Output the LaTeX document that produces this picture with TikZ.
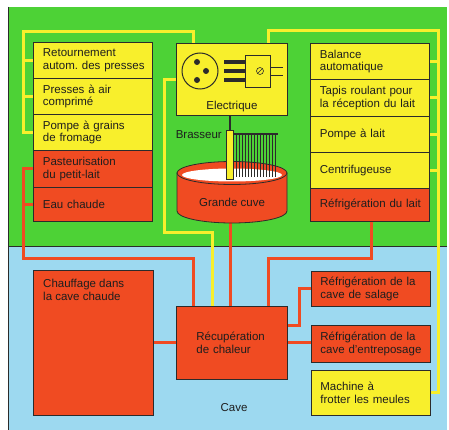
\documentclass[tikz,border=0pt]{standalone}
\usepackage{fontspec}
\setmainfont{Liberation Sans}
\usetikzlibrary{calc}
\pgfdeclarelayer{bg}
\pgfdeclarelayer{wires}
\pgfsetlayers{bg,wires,main}

\definecolor{grn}{HTML}{4DD236}
\definecolor{yel}{HTML}{F8EF2C}
\definecolor{rd}{HTML}{F04B22}
\definecolor{blu}{HTML}{9DD9F0}
\definecolor{edge}{HTML}{2B2B2B}
\definecolor{ink}{HTML}{1E1E1E}

\tikzset{
  cell/.style={rectangle, draw=edge, line width=0.8pt, anchor=north west,
    align=left, text width=#1, inner xsep=9.5pt, inner ysep=0pt, text=ink},
  cell/.default=100pt,
  ywire/.style={draw=yel, line width=3pt},
  rwire/.style={draw=rd, line width=3pt},
  outline/.style={draw=edge, line width=0.8pt},
}

\begin{document}
\begin{tikzpicture}[x=1pt, y=-1pt, font=\fontsize{11.5}{12.5}\selectfont]
\useasboundingbox (0,0) rectangle (449,430);

% background: dairy floor (green) and cellar (blue)
\begin{pgfonlayer}{bg}
  \fill[white] (0,0) rectangle (449,430);
  \fill[grn] (8,7) rectangle (447,246);
  \fill[blu] (8,246) rectangle (447,430);
  \draw[edge, line width=0.6pt] (8,246) -- (447,246);
  \draw[edge, line width=0.6pt] (8,7) -- (8,430);
\end{pgfonlayer}

% left column of machines
\node[cell, fill=yel, minimum height=36pt] (r1) at (33,42) {Retournement\\autom.~des~presses};
\node[cell, fill=yel, minimum height=36pt] (r2) at (33,78) {Presses à air\\comprimé};
\node[cell, fill=yel, minimum height=36pt] (r3) at (33,114) {Pompe à grains\\de fromage};
\node[cell, fill=rd, minimum height=37pt] (r4) at (33,150) {Pasteurisation\\du petit-lait};
\node[cell, fill=rd, minimum height=34pt] (r5) at (33,187) {Eau chaude};

% right column of machines
\node[cell, fill=yel, minimum height=36pt] (s1) at (310,43) {Balance\\automatique};
\node[cell, fill=yel, minimum height=37pt] (s2) at (310,79) {Tapis~roulant~pour\\la~réception~du~lait};
\node[cell, fill=yel, minimum height=36pt] (s3) at (310,116) {Pompe à lait};
\node[cell, fill=yel, minimum height=36pt] (s4) at (310,152) {Centrifugeuse};
\node[cell, fill=rd, minimum height=33pt] (s5) at (310,188) {Réfrigération~du~lait};

% electrical supply
\node[cell, fill=yel, text width=92pt, minimum height=72pt,
  label={[anchor=base, inner sep=0pt, yshift=6pt, text=ink]south:Electrique}] (elec) at (176,43) {};
\draw[outline, fill=yel, line width=1pt] (200,71) circle[radius=18];
\foreach \yy in {62,80} \fill[edge] (197,\yy) circle[radius=3];
\fill[edge] (206,71) circle[radius=3];
\foreach \yy in {62,71,80} \draw[edge, line width=3.2pt] (224,\yy) -- (245,\yy);
\draw[outline, fill=yel] (245,55) rectangle (270,87);
\draw[edge, line width=0.6pt] (260,71) circle[radius=3.5];
\draw[edge, line width=0.5pt] (258,73) -- (262,69);
\draw[edge, line width=0.6pt] (270,67) -- (283,67);
\draw[edge, line width=0.6pt] (270,75) -- (283,75);

% cheese vat with stirrer
\path[fill=rd, outline] (177,173) -- (177,211)
  arc[start angle=180, end angle=0, x radius=55, y radius=12] -- (287,173) -- cycle;
\draw[outline, fill=rd] (232,173) ellipse[x radius=55, y radius=11.5];
\fill[white] (232,175) ellipse[x radius=50, y radius=6.5];
\node[text=ink] (cuve) at (232,202) {Grande cuve};
\coordinate (cuvebot) at (230,223);
\foreach \xx in {236,239,...,275} \draw[edge, line width=0.45pt] (\xx,134) -- (\xx,177);
\draw[edge, line width=1.3pt] (233,134) -- (278,134);
\node[rectangle, draw=edge, line width=0.8pt, fill=yel, minimum width=7pt,
  minimum height=49pt, inner sep=0pt, anchor=north] (rod) at (229.5,130) {};
\draw[edge, line width=2pt] (rod.north |- elec.south) -- (rod.north);
\node[text=ink, anchor=east, inner sep=0pt] (brass) at (222,135) {Brasseur};

% cellar
\node[cell, fill=rd, text width=101pt, minimum height=145pt,
  label={[anchor=north west, align=left, inner sep=0pt, xshift=10pt, yshift=-9pt, text=ink]north west:Chauffage dans\\la cave chaude}] (chauf) at (33,270) {};
\node[cell, fill=rd, text width=71pt, inner xsep=20pt, minimum height=73pt] (recup) at (176,306) {Récupération\\de chaleur};
\node[cell, fill=rd, inner xsep=9pt, text width=101pt, minimum height=35pt] (sal) at (311,271) {Réfrigération~de~la\\cave~de~salage};
\node[cell, fill=rd, inner xsep=9pt, text width=101pt, minimum height=37pt] (ent) at (311,325) {Réfrigération~de~la\\cave~d'entreposage};
\node[cell, fill=yel, inner xsep=9pt, text width=101pt, minimum height=45pt] (mach) at (311,370) {Machine à\\frotter~les~meules};
\node[text=ink] (cave) at (234,408) {Cave};

% power lines (yellow) and heat lines (red)
\begin{pgfonlayer}{wires}
  \coordinate (ltrunk) at (23,32);
  \coordinate (rtrunk) at (438,31);
  \draw[ywire] ([xshift=17pt]elec.north west) |- (ltrunk) |- (r3.west);
  \foreach \n in {r1,r2} \draw[ywire] (\n.west) -- (\n.west -| ltrunk);
  \draw[ywire] ([xshift=92pt]elec.north west) |- (rtrunk) |- (mach.east);
  \foreach \n in {s1,s2,s3,s4} \draw[ywire] (\n.east) -- (\n.east -| rtrunk);
  \draw[ywire] (elec.west) -| (164,232) -| ([xshift=36pt]recup.north west);

  \coordinate (lred) at (23,258);
  \coordinate (rred) at (268,258);
  \draw[rwire] (r4.west) -| (lred) -| ([xshift=17pt]recup.north west);
  \draw[rwire] (r5.west) -- (r5.west -| lred);
  \draw[rwire] (cuvebot) -- (cuvebot |- recup.north);
  \draw[rwire] ([xshift=61pt]s5.south west) |- (rred) -- (rred |- recup.north);
  \draw[rwire] (chauf.east) -- (recup.west);
  \draw[rwire] ([yshift=17.5pt]recup.east) -- ++(12,0) |- (sal.west);
  \draw[rwire] (recup.east) -- (recup.east -| ent.west);
\end{pgfonlayer}
\end{tikzpicture}
\end{document}
